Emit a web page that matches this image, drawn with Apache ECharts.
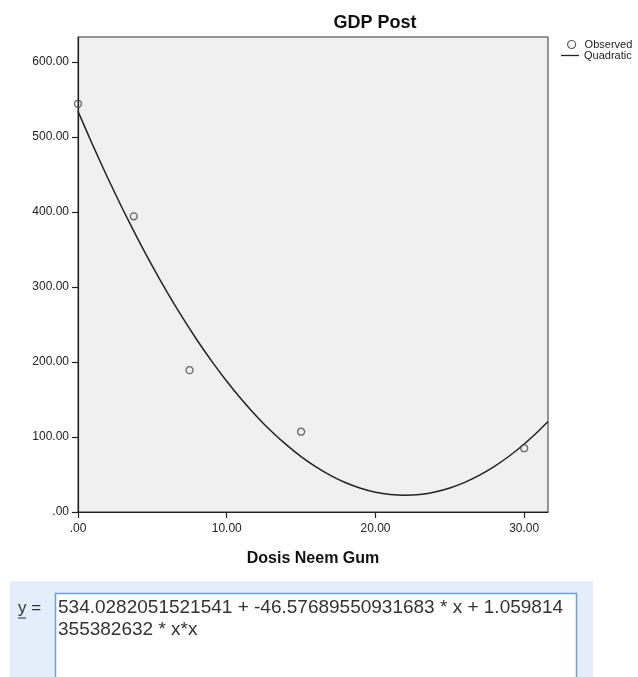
<!DOCTYPE html>
<html>
<head>
<meta charset="utf-8">
<script src="https://cdn.jsdelivr.net/npm/echarts@6/dist/echarts.min.js"></script>
<style>
html,body{margin:0;padding:0;background:#fff;}
#chart{width:638px;height:677px;}
</style>
</head>
<body>
<div id="chart"></div>
<script>
// Observed data (Dosis Neem Gum vs GDP Post)
const obsX = [0, 3.75, 7.5, 15, 30];
const obsY = [544, 394, 189, 107, 85];
// Quadratic fit curve
const curveX = [0,1,2,3,4,5,6,7,8,9,10,11,12,13,14,15,16,17,18,19,20,21,22,23,24,25,26,27,28,29,30,31,31.6];
const curveY = [534.0,488.5,445.1,403.8,364.7,327.6,292.7,259.9,229.2,200.7,174.2,149.9,127.7,107.6,89.7,73.8,60.1,48.5,39.0,31.7,26.4,23.3,22.3,23.4,26.6,32.0,39.5,49.1,60.8,74.6,90.6,108.6,120.5];
const xTicks = [0, 10, 20, 30];
const yTicks = [0, 100, 200, 300, 400, 500, 600];
const titleText = 'GDP Post';
const xName = 'Dosis Neem Gum';
const seriesNames = ['Observed', 'Quadratic'];
const equationLines = ['534.0282051521541 + -46.57689550931683 * x + 1.059814', '355382632 * x*x'];

const FONT = '"Liberation Sans", Arial, sans-serif';
const fmt = v => (v === 0 ? '.00' : v.toFixed(2));

const chart = echarts.init(document.getElementById('chart'), null, {renderer: 'canvas'});
chart.setOption({
  animation: false,
  backgroundColor: '#ffffff',
  title: {
    text: titleText,
    left: 370, top: 9, textAlign: 'center',
    textStyle: {fontFamily: FONT, fontSize: 18, fontWeight: 'bold', color: '#111'}
  },
  legend: [
    {
      data: [{name: seriesNames[0], icon: 'circle', itemStyle: {color: 'transparent', borderColor: '#333', borderWidth: 1.2}}],
      left: 567, top: 39, padding: 0, itemWidth: 16, itemHeight: 8,
      selectedMode: false,
      textStyle: {fontFamily: FONT, fontSize: 11, color: '#222'}
    },
    {
      data: [{name: seriesNames[1], icon: 'rect', itemStyle: {color: '#222', borderWidth: 0}}],
      left: 561, top: 50, padding: 0, itemWidth: 18, itemHeight: 1.3,
      selectedMode: false,
      textStyle: {fontFamily: FONT, fontSize: 11, color: '#222'}
    }
  ],
  grid: {
    left: 78, top: 37, right: 90, bottom: 165,
    show: true, backgroundColor: '#f0f0f0', borderColor: '#333', borderWidth: 1
  },
  xAxis: {
    type: 'value', min: 0, max: 31.6,
    name: xName, nameLocation: 'middle', nameGap: 39,
    nameTextStyle: {fontFamily: FONT, fontSize: 16, fontWeight: 'bold', color: '#111'},
    axisLine: {show: true, onZero: false, lineStyle: {color: '#222', width: 1.2}},
    axisTick: {show: true, inside: false, length: 6, customValues: xTicks, lineStyle: {color: '#222', width: 1.2}},
    axisLabel: {customValues: xTicks, formatter: fmt, margin: 11, fontFamily: FONT, fontSize: 12, color: '#222'},
    splitLine: {show: false}
  },
  yAxis: {
    type: 'value', min: 0, max: 633,
    axisLine: {show: true, onZero: false, lineStyle: {color: '#222', width: 1.2}},
    axisTick: {show: true, inside: false, length: 6, customValues: yTicks, lineStyle: {color: '#222', width: 1.2}},
    axisLabel: {customValues: yTicks, formatter: fmt, margin: 9, fontFamily: FONT, fontSize: 12, color: '#222'},
    splitLine: {show: false}
  },
  series: [
    {
      name: seriesNames[0], type: 'scatter',
      data: obsX.map((x, i) => [x, obsY[i]]),
      symbol: 'circle', symbolSize: 7,
      itemStyle: {color: 'transparent', borderColor: '#444', borderWidth: 1.3},
      clip: false, z: 3
    },
    {
      name: seriesNames[1], type: 'line',
      data: curveX.map((x, i) => [x, curveY[i]]),
      showSymbol: false, symbol: 'none', smooth: 0.2,
      lineStyle: {color: '#222', width: 1.5},
      itemStyle: {color: '#222'},
      clip: true, z: 2
    }
  ],
  graphic: [
    {type: 'rect', left: 10, top: 581, shape: {width: 583, height: 100}, style: {fill: '#e4eefa'}, z: 0},
    {type: 'rect', shape: {x: 55.5, y: 593.5, width: 521, height: 100}, style: {fill: '#ffffff', stroke: '#6a9fd8', lineWidth: 1.5}, z: 1},
    {type: 'text', x: 18, y: 608, style: {text: 'y =', font: '17px ' + FONT, fill: '#333', textVerticalAlign: 'middle'}, z: 2},
    {type: 'line', shape: {x1: 18, y1: 618, x2: 26, y2: 618}, style: {stroke: '#333', lineWidth: 1}, z: 2},
    {type: 'text', x: 58, y: 608, style: {text: equationLines[0], font: '19px ' + FONT, fill: '#333', textVerticalAlign: 'middle'}, z: 2},
    {type: 'text', x: 58, y: 630, style: {text: equationLines[1], font: '19px ' + FONT, fill: '#333', textVerticalAlign: 'middle'}, z: 2}
  ]
});
</script>
</body>
</html>
